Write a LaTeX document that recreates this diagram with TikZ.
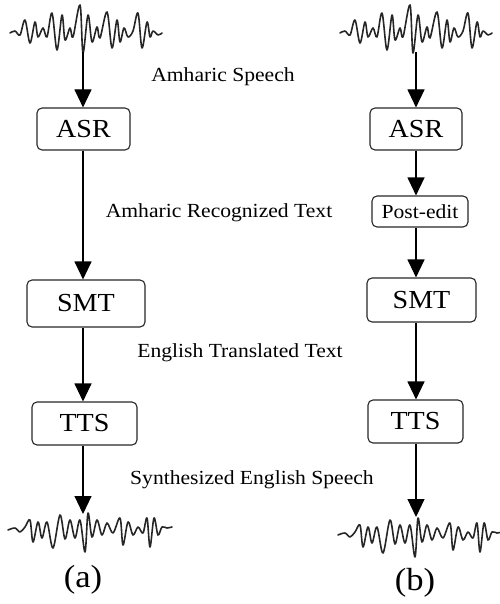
\documentclass[tikz,border=0pt]{standalone}
\usepackage{fontspec}
\setmainfont[FakeStretch=1.08]{Liberation Serif}
\usetikzlibrary{arrows.meta}
\tikzset{
  wavestyle/.style={line width=1.6pt, black!85, line join=round, line cap=round},
  wavetop/.pic={\draw[wavestyle] plot[smooth,tension=0.55] coordinates {
    (-76,0) (-71,-2) (-66,2) (-61,-13) (-56,10) (-51,-11) (-48,4) (-43,-5) (-39,4)
    (-34,-20) (-29,17) (-24,-18) (-21,7) (-16,-5) (-13,4) (-6,-28) (-3,20) (2,-18)
    (6,9) (11,-6) (14,5) (21,-21) (26,15) (31,-13) (34,9) (38,-5) (42,4) (47,-2)
    (52,-20) (56,15) (61,-11) (64,4) (67,-2) (72,2) (76,0)};},
  wavebot/.pic={\draw[wavestyle] plot[smooth,tension=0.55] coordinates {
    (-82,0) (-75,-2) (-70,2) (-65,-3) (-60,-10) (-57,12) (-52,-8) (-48,8) (-43,-8)
    (-37,18) (-30,-15) (-25,9) (-20,-10) (-15,8) (-10,-10) (-5,22) (-2,-17) (2,7)
    (7,-10) (12,5) (17,-7) (23,3) (30,-12) (33,15) (38,-8) (43,5) (48,-3) (53,3)
    (57,-12) (60,17) (64,-12) (68,5) (72,-3) (77,-2) (82,-3)};}
}
\begin{document}
\begin{tikzpicture}[x=1pt,y=-1pt,
  box/.style={draw=black!85, line width=1.1pt, rounded corners=5pt, inner sep=0pt,
              font=\fontsize{26}{28}\selectfont},
  smallbox/.style={box, font=\fontsize{20}{22}\selectfont},
  lbl/.style={font=\fontsize{20}{22}\selectfont, inner sep=0pt},
  captext/.style={font=\fontsize{32}{34}\selectfont, inner sep=0pt},
  arr/.style={line width=1.1pt, -{Triangle[width=17pt,length=18pt]}}]
\useasboundingbox (0,0) rectangle (499,604);

% waves
\pic at (86,33) {wavetop};
\pic at (416,33) {wavetop};
\pic at (90,530) {wavebot};
\pic at (420,535) {wavebot};

% column (a)
\coordinate (wa1) at (83,52);
\coordinate (wa2) at (83,514);
\node[box, minimum width=93pt, minimum height=42pt] (asrA) at (83.5,129) {ASR};
\node[box, minimum width=118pt, minimum height=47pt] (smtA) at (86,303.5) {SMT};
\node[box, minimum width=105pt, minimum height=43pt] (ttsA) at (84.5,423.5) {TTS};
\draw[arr] (wa1) -- (wa1 |- asrA.north);
\draw[arr] (asrA.south -| wa1) -- (wa1 |- smtA.north);
\draw[arr] (smtA.south -| wa1) -- (wa1 |- ttsA.north);
\draw[arr] (ttsA.south -| wa1) -- (wa2);

% column (b)
\coordinate (wb1) at (416,52);
\coordinate (wb2) at (416,517);
\node[box, minimum width=92pt, minimum height=42pt] (asrB) at (416,129) {ASR};
\node[smallbox, minimum width=96pt, minimum height=31pt] (peB) at (420,211.5) {Post-edit};
\node[box, minimum width=109pt, minimum height=44pt] (smtB) at (421.5,300) {SMT};
\node[box, minimum width=95pt, minimum height=43pt] (ttsB) at (415.5,421.5) {TTS};
\draw[arr] (wb1) -- (wb1 |- asrB.north);
\draw[arr] (asrB.south -| wb1) -- (wb1 |- peB.north);
\draw[arr] (peB.south -| wb1) -- (wb1 |- smtB.north);
\draw[arr] (smtB.south -| wb1) -- (wb1 |- ttsB.north);
\draw[arr] (ttsB.south -| wb1) -- (wb2);

% labels
\node[lbl] (l1) at (223,77) {Amharic Speech};
\node[lbl] (l2) at (219,213) {Amharic Recognized Text};
\node[lbl] (l3) at (240,353) {English Translated Text};
\node[lbl] (l4) at (252,480) {Synthesized English Speech};
\node[captext] (ca) at (83,580) {(a)};
\node[captext] (cb) at (415,583) {(b)};
\end{tikzpicture}
\end{document}
